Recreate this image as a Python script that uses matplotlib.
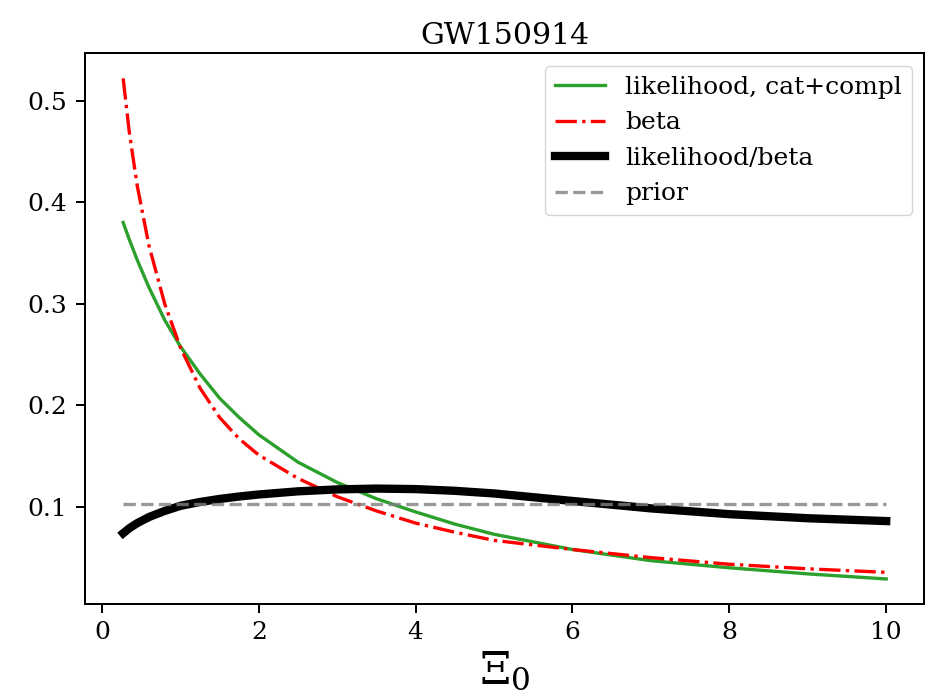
import numpy as np
import matplotlib
matplotlib.use('Agg')
import matplotlib.pyplot as plt

plt.rcParams['font.family'] = 'DejaVu Serif'
plt.rcParams['mathtext.fontset'] = 'dejavuserif'

# values
xi0 = [0.27, 0.35, 0.45, 0.6, 0.8, 1.0, 1.25, 1.5, 1.75, 2.0, 2.5, 3.0, 3.5, 4.0, 4.5, 5.0,
       6.0, 7.0, 8.0, 9.0, 10.0]
likelihood = [0.380, 0.363, 0.343, 0.316, 0.284, 0.258, 0.231, 0.207, 0.188, 0.171, 0.144, 0.124,
              0.108, 0.095, 0.083, 0.073, 0.058, 0.047, 0.040, 0.034, 0.029]
beta = [0.522, 0.468, 0.416, 0.357, 0.300, 0.257, 0.217, 0.188, 0.167, 0.151, 0.128, 0.110,
        0.096, 0.084, 0.075, 0.067, 0.058, 0.050, 0.0435, 0.039, 0.0355]
ratio = [0.074, 0.079, 0.084, 0.090, 0.096, 0.101, 0.1048, 0.1078, 0.1102, 0.1122, 0.1153, 0.1172,
         0.1180, 0.1175, 0.1158, 0.1132, 0.1058, 0.0985, 0.0928, 0.0888, 0.0860]
prior_val = 0.1028

fig = plt.figure(figsize=(9.33, 6.96), dpi=100)
ax = fig.add_axes([0.0911, 0.1322, 0.8996, 0.7912])

ax.plot(xi0, likelihood, color='tab:green', lw=2.4, label='likelihood, cat+compl')
ax.plot(xi0, beta, color='red', lw=2.4, ls='-.', label='beta')
ax.plot(xi0, ratio, color='black', lw=6, label='likelihood/beta')
ax.plot([xi0[0], xi0[-1]], [prior_val, prior_val], color='grey', alpha=0.8, lw=2.4, ls='--', label='prior')

ax.set_title('GW150914', fontsize=21.6, pad=7)
ax.set_xlabel(r'$\Xi_0$', fontsize=32, labelpad=4)
ax.tick_params(labelsize=18, length=6.3, width=1.44, pad=6.3)
for s in ax.spines.values():
    s.set_linewidth(1.44)
ax.legend(fontsize=18, loc='upper right')

fig.savefig('out.png', dpi=100)
